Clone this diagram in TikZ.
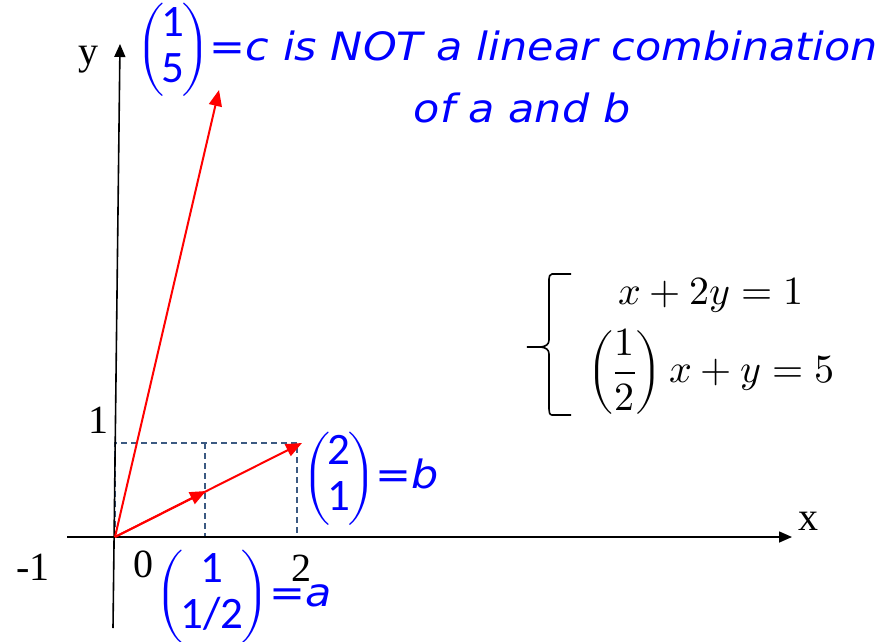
\documentclass[tikz,border=0pt]{standalone}
\usepackage{amsmath}
\usepackage{unicode-math}
\setmathfont{Latin Modern Math}
\newfontfamily\handfont{DejaVu Sans}[FakeStretch=1.1]
\newfontfamily\digitfont{Carlito}
\newfontfamily\tickfont{Liberation Serif}
\usetikzlibrary{positioning, arrows.meta, calc}
\definecolor{gridblue}{RGB}{60,90,130}
% 行列の中の数字
\newcommand{\hd}[1]{\text{\digitfont\upshape\fontsize{45}{47}\selectfont #1}}
\newcommand{\hvec}[2]{\left(\mkern-1.5mu\begin{matrix}\hd{#1}\\ \hd{#2}\end{matrix}\mkern-1.5mu\right)}

\begin{document}
\begin{tikzpicture}[
    x=1pt, y=-1pt,          % 参照画像のピクセル座標をそのまま使う
    >={Triangle[length=13pt, width=11pt]},
    % 座標軸のスタイル
    axis/.style={black, line width=1.6pt, ->},
    % 赤いベクトルのスタイル
    vec/.style={red, line width=2pt, -{Triangle[length=16pt, width=13pt]}},
    % 補助の破線
    gridline/.style={gridblue, line width=1.4pt, dash pattern=on 6pt off 4pt},
    % 手書き風の青いラベル
    handlabel/.style={text=blue, inner sep=0pt, font=\handfont\itshape\fontsize{39}{46}\selectfont},
    ticklabel/.style={inner sep=0pt, font=\tickfont\fontsize{40}{44}\selectfont},
    eqlabel/.style={inner sep=0pt, font=\fontsize{40}{44}\selectfont},
    bracket/.style={black, line width=1.6pt}
]
    \useasboundingbox (0,0) rectangle (883,642);

    % --- 1. 基準点 ---
    \coordinate (O) at (115,537);
    \coordinate (x_start) at (67,537);
    \coordinate (x_end) at (792,537);
    \coordinate (y_start) at (113,628);
    \coordinate (y_end) at (120,44);
    \coordinate (a_end) at (206,491);
    \coordinate (b_end) at (302,443);
    \coordinate (c_end) at (219,90);
    \coordinate (grid_top) at (297,443);
    \coordinate (grid_mid_top) at (205,443);
    \coordinate (grid_mid_bot) at (205,537);

    % --- 2. 破線の補助枠 ---
    \draw [gridline] (O) rectangle (grid_top);
    \draw [gridline] (grid_mid_top) -- (grid_mid_bot);

    % --- 3. 座標軸 ---
    \draw [axis] (x_start) -- (x_end);
    \draw [axis] (y_start) -- (y_end);
    \node [ticklabel] (x_label) at (808,521) {x};
    \node [ticklabel] (y_label) at (88,60) {y};
    \node [ticklabel] (tick_one) at (98,420) {1};
    \node [ticklabel] (tick_minus) at (33,567) {-1};
    \node [ticklabel] (tick_zero) at (143,564) {0};
    \node [ticklabel] (tick_two) at (301,568) {2};

    % --- 4. ベクトル ---
    \draw [vec] (O) -- (c_end);
    \draw [vec] (O) -- (b_end);
    \draw [vec] (O) -- (a_end);

    % --- 5. 青いラベル ---
    \node [handlabel, anchor=base west] (c_label) at (136,60)
        {$\hvec{1}{5}$\upshape=\itshape c is NOT a linear combination};
    \node [handlabel] (c_label_two) at (522,108) {of a and b};
    \node [handlabel, anchor=base west] (b_label) at (302,488)
        {$\hvec{2}{1}$\upshape=\itshape b};
    \node [handlabel, anchor=base west] (a_label) at (155,606)
        {$\hvec{1}{1/2}$\upshape=\itshape a};

    % --- 6. 連立方程式 ---
    \draw [bracket] (571,274) -- (552,274) to[out=180, in=90] (549,279)
        -- (549,340) to[out=-90, in=0] (527,347) to[out=0, in=90] (549,354)
        -- (549,409) to[out=-90, in=180] (552,415) -- (571,415);
    \node [eqlabel] (eq_one) at (711,295) {$x+2y=1$};
    \node [eqlabel] (eq_two) at (711,372) {$\left(\dfrac{1}{2}\right)x+y=5$};

\end{tikzpicture}
\end{document}
